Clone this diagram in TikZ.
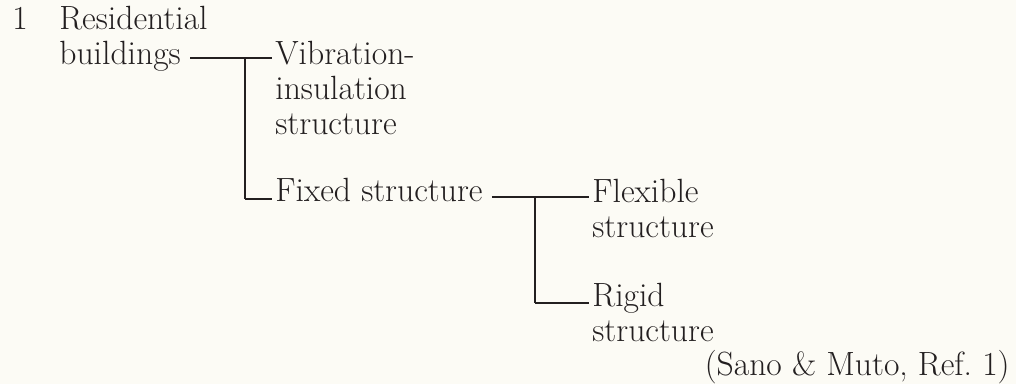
\documentclass[tikz,border=0pt]{standalone}
\usepackage{tikz}
\usetikzlibrary{positioning}
\definecolor{paper}{RGB}{252,251,245}
\definecolor{ink}{RGB}{35,31,32}

\begin{document}
\begin{tikzpicture}[x=0.5pt, y=-0.5pt]
	\tikzstyle{entry} = [anchor=base west, inner sep=1.5pt, align=left, text=ink, font=\fontsize{16.8}{17.5}\selectfont]
	\tikzstyle{branch} = [draw=ink, line width=0.8pt]

	\fill[paper] (0,0) rectangle (1016,384);
	\useasboundingbox (0,0) rectangle (1016,384);

	% multi-line entries sit on the baseline of their last line
	\path
	node[entry] (num) at (9,30) {1}
	node[entry] (res) at (56,30) {Residential}
	node[entry] (bld) at (56,65) {buildings}
	node[entry] (vib) at (272,135) {Vibration-\\insulation\\structure}
	node[entry] (fix) at (272,202) {Fixed structure}
	node[entry] (flex) at (589,238) {Flexible\\structure}
	node[entry] (rig) at (589,342) {Rigid\\structure}
	node[entry, anchor=base east] (src) at (1013,375) {(Sano \& Muto, Ref.~1)};

	\coordinate (j1) at (245,58);
	\coordinate (k1) at (245,199);
	\coordinate (j2) at (535,197);
	\coordinate (k2) at (535,303);

	\path[branch]
	(bld.east |- j1) edge[shorten <=3pt] (vib.west |- j1)
	(j1) edge (k1)
	(k1) edge (fix.west |- k1)
	(fix.east |- j2) edge[shorten <=3pt] (flex.west |- j2)
	(j2) edge (k2)
	(k2) edge (rig.west |- k2)
	;
\end{tikzpicture}
\end{document}
